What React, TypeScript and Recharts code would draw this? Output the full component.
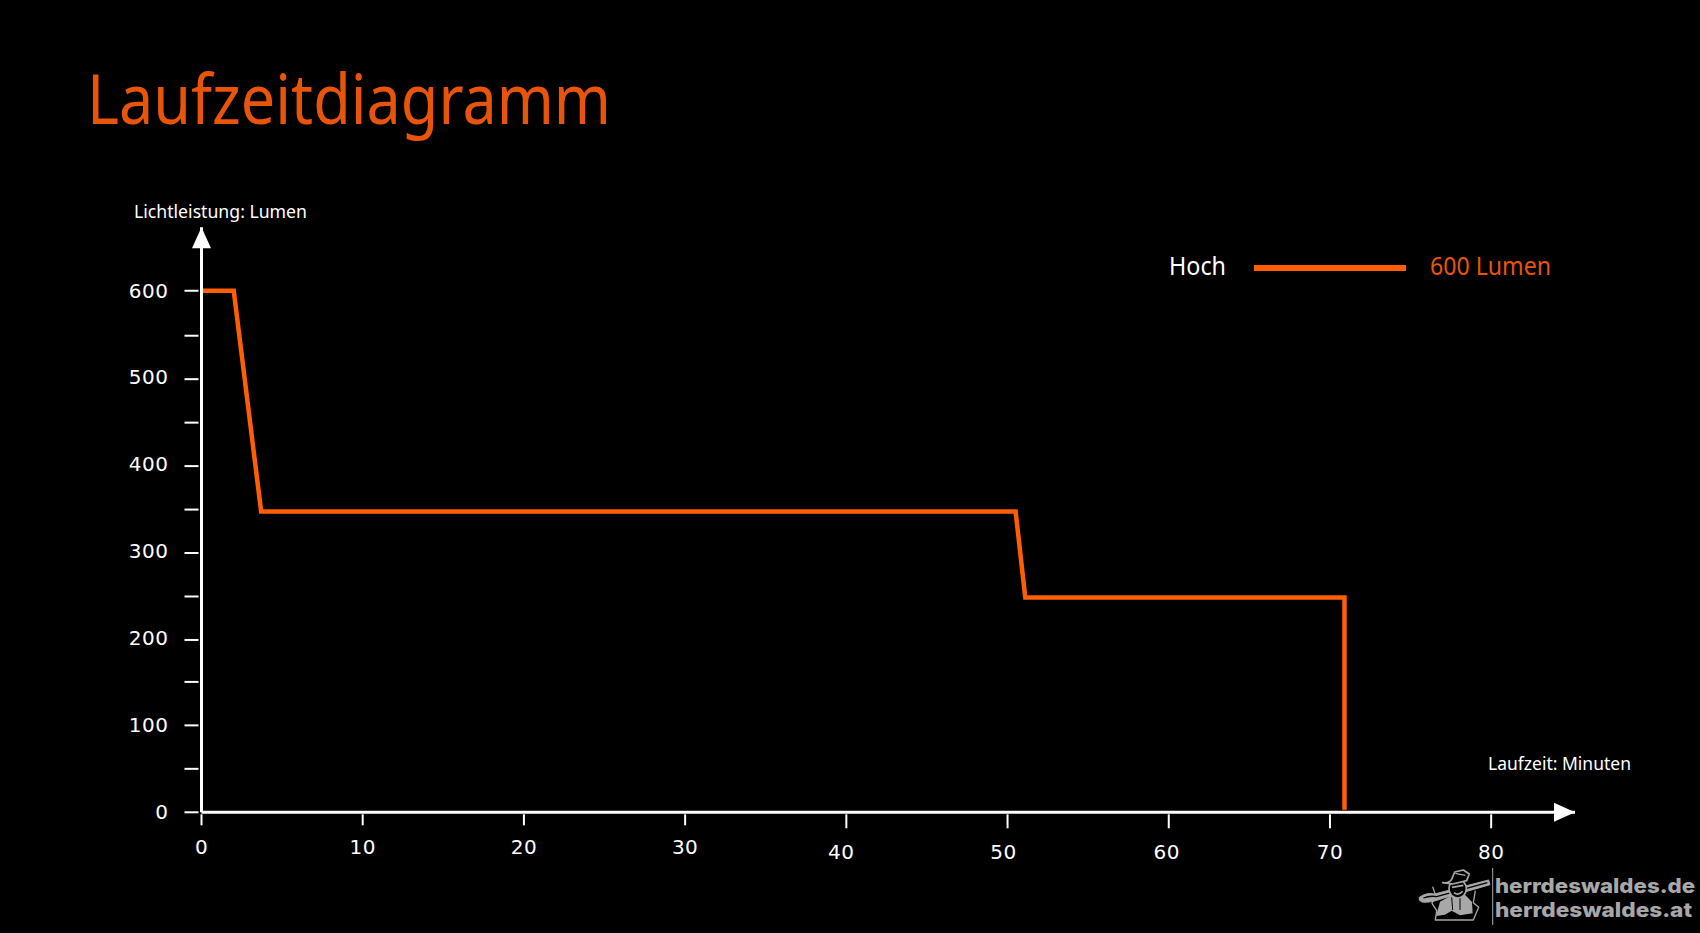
import { Line, LineChart, ReferenceDot, XAxis, YAxis } from "recharts";

const minutes = [0, 2, 3.7, 50.5, 51.1, 70.9, 70.9];
const lumens = [600, 600, 346, 346, 247, 247, 3];
const xTicks = [0, 10, 20, 30, 40, 50, 60, 70, 80];
const yTicks = [0, 50, 100, 150, 200, 250, 300, 350, 400, 450, 500, 550, 600];
const xMax = 85.2;
const yMax = 673;
const titleText = "Laufzeitdiagramm";
const yAxisName = "Lichtleistung: Lumen";
const xAxisName = "Laufzeit: Minuten";
const legendMode = "Hoch";
const legendValue = "600 Lumen";

const ORANGE = "#ff5f00";
const TEXT_ORANGE = "#e8540a";
const GREY = "#a8a8a8";
const TEXT_FONT = "'Noto Sans', sans-serif";
const DIGIT_FONT = "'DejaVu Sans', sans-serif";

const data = minutes.map((minute, i) => ({ minute, lumen: lumens[i] }));

function XTick({ x, y, payload }: any) {
  const value = payload.value;
  // right half of the axis sits a bit lower and labels drift left, as in the original artwork
  const late = value >= 40;
  const nudge = value === 40 ? -5 : value === 50 ? -4 : value === 60 ? -2 : 0;
  return (
    <g>
      <line x1={x} x2={x} y1={y + 2} y2={y + (late ? 16 : 13)} stroke="#fff" strokeWidth={2} />
      <text x={x + nudge} y={y + (late ? 47 : 42)} textAnchor="middle" fill="#fff" fontSize={20} letterSpacing={0.5} fontFamily={DIGIT_FONT}>
        {value}
      </text>
    </g>
  );
}

function YTick({ x, y, payload }: any) {
  const value = payload.value;
  // minor marks in the original sit slightly under the even label spacing
  const drift = value >= 200 && value < 600 ? 1.5 : 0;
  const labelDrop = value >= 300 && value <= 500 ? 6 : 7;
  return (
    <g>
      <line x1={x - 17} x2={x - 3} y1={y + drift} y2={y + drift} stroke="#fff" strokeWidth={2} />
      {value % 100 === 0 && (
        <text x={x - 33} y={y + labelDrop} textAnchor="end" fill="#fff" fontSize={20} letterSpacing={0.5} fontFamily={DIGIT_FONT}>
          {value}
        </text>
      )}
    </g>
  );
}

function ArrowRight({ cx, cy }: any) {
  return <polygon points={`${cx},${cy} ${cx - 21},${cy - 9.5} ${cx - 21},${cy + 9.5}`} fill="#fff" />;
}

function ArrowUp({ cx, cy }: any) {
  return <polygon points={`${cx},${cy} ${cx - 9.5},${cy + 21} ${cx + 9.5},${cy + 21}`} fill="#fff" />;
}

function Logo() {
  return (
    <g transform="translate(1410 860) scale(0.3333)" fill="none" stroke={GREY} strokeLinejoin="round">
      <path d="M68 80 L76 104 L66 130 L80 152 L76 180 L190 180 L206 142 L190 128 L196 92" strokeWidth={4} />
      <path d="M78 168 L90 125 L125 106 L165 104 L186 126 L188 160 L150 166 L125 152 L105 164 Z" fill={GREY} stroke="none" />
      <path d="M125 112 L128 150 M150 108 L150 150" stroke="#000" strokeWidth={3} />
      <path d="M28 112 Q50 96 74 102 L236 60 L240 74 L102 114 Q60 130 36 126 Q24 122 28 112 Z" fill={GREY} strokeWidth={3} />
      <path d="M40 114 Q60 106 80 110 L232 68" stroke="#000" strokeWidth={4} />
      <ellipse cx={143} cy={86} rx={26} ry={28} fill="#000" strokeWidth={5} />
      <path d="M126 82 L160 76 M132 98 Q146 108 158 94" strokeWidth={5} />
      <path d="M98 68 Q118 72 126 56 L134 36 L160 30 L178 42 L170 62 L128 72 Z" fill="#000" strokeWidth={5} />
      <path d="M136 40 L166 46" strokeWidth={4} />
    </g>
  );
}

function Overlay() {
  return (
    <svg width={1700} height={933} style={{ position: "absolute", left: 0, top: 0, pointerEvents: "none" }}>
      <text x={87} y={124} fill={TEXT_ORANGE} fontFamily={TEXT_FONT} fontSize={70} textLength={524} lengthAdjust="spacingAndGlyphs">
        {titleText}
      </text>
      <text x={134} y={218} fill="#fff" fontFamily={TEXT_FONT} fontSize={18} textLength={173} lengthAdjust="spacingAndGlyphs">
        {yAxisName}
      </text>
      <text x={1488} y={770} fill="#fff" fontFamily={TEXT_FONT} fontSize={18} textLength={143} lengthAdjust="spacingAndGlyphs">
        {xAxisName}
      </text>
      <text x={1169} y={275} fill="#fff" fontFamily={TEXT_FONT} fontSize={25} textLength={57} lengthAdjust="spacingAndGlyphs">
        {legendMode}
      </text>
      <line x1={1254} x2={1406} y1={268} y2={268} stroke={ORANGE} strokeWidth={6} />
      <text x={1430} y={275} fill={TEXT_ORANGE} fontFamily={TEXT_FONT} fontSize={25} textLength={121} lengthAdjust="spacingAndGlyphs">
        {legendValue}
      </text>
      <Logo />
      <line x1={1492.7} x2={1492.7} y1={868} y2={925} stroke={GREY} strokeWidth={1} />
      <text x={1495} y={893} fill={GREY} fontFamily="Inter, sans-serif" fontWeight={800} fontSize={20} textLength={200} lengthAdjust="spacingAndGlyphs">
        herrdeswaldes.de
      </text>
      <text x={1495} y={917} fill={GREY} fontFamily="Inter, sans-serif" fontWeight={800} fontSize={20} textLength={197} lengthAdjust="spacingAndGlyphs">
        herrdeswaldes.at
      </text>
    </svg>
  );
}

export default function App() {
  return (
    <div style={{ position: "absolute", left: 0, top: 0, width: 1700, height: 933, background: "#000", overflow: "hidden" }}>
      <LineChart width={1700} height={933} data={data} margin={{ top: 227.3, right: 125, bottom: 0, left: 0 }}>
        <XAxis
          dataKey="minute"
          type="number"
          domain={[0, xMax]}
          ticks={xTicks}
          interval={0}
          height={120.7}
          axisLine={{ stroke: "#fff", strokeWidth: 3 }}
          tickLine={false}
          tickSize={0}
          tickMargin={0}
          tick={<XTick />}
        />
        <YAxis
          type="number"
          domain={[0, yMax]}
          ticks={yTicks}
          interval={0}
          width={201.5}
          axisLine={{ stroke: "#fff", strokeWidth: 3 }}
          tickLine={false}
          tickSize={0}
          tickMargin={0}
          tick={<YTick />}
        />
        <Line dataKey="lumen" type="linear" stroke={ORANGE} strokeWidth={4.5} strokeLinejoin="miter" dot={false} activeDot={false} isAnimationActive={false} />
        <ReferenceDot x={xMax} y={0} ifOverflow="visible" shape={<ArrowRight />} />
        <ReferenceDot x={0} y={yMax} ifOverflow="visible" shape={<ArrowUp />} />
      </LineChart>
      <Overlay />
    </div>
  );
}
